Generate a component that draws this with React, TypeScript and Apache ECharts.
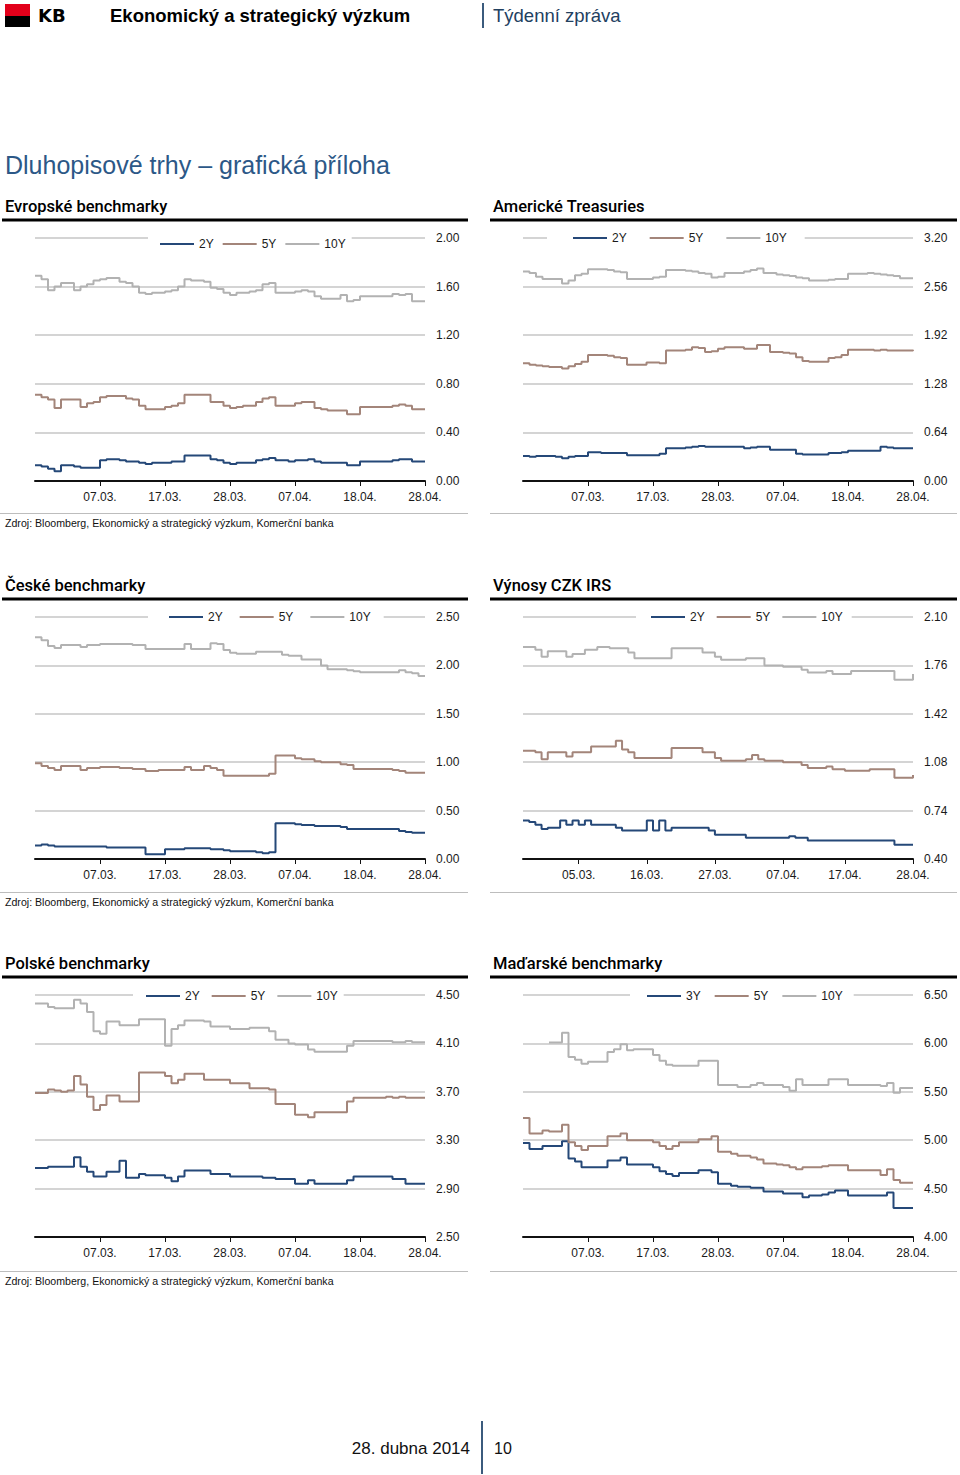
import React, { useEffect, useRef } from "react";
import * as echarts from "echarts";

// ---------------- data ----------------
const STD_TICK_LABELS = ["07.03.", "17.03.", "28.03.", "07.04.", "18.04.", "28.04."];
const STD_TICK_POS = [10, 20, 30, 40, 50, 60];
const IRS_TICK_LABELS = ["05.03.", "16.03.", "27.03.", "07.04.", "17.04.", "28.04."];
const IRS_TICK_POS = [9, 20, 31, 42, 52, 63];

const EUR_Y_TICKS = [0, 0.4, 0.8, 1.2, 1.6, 2.0];
const USD_Y_TICKS = [0, 0.64, 1.28, 1.92, 2.56, 3.2];
const CZ_Y_TICKS = [0, 0.5, 1.0, 1.5, 2.0, 2.5];
const IRS_Y_TICKS = [0.4, 0.74, 1.08, 1.42, 1.76, 2.1];
const PL_Y_TICKS = [2.5, 2.9, 3.3, 3.7, 4.1, 4.5];
const HU_Y_TICKS = [4.0, 4.5, 5.0, 5.5, 6.0, 6.5];

const EUR_2Y = [0.13,0.12,0.10,0.08,0.13,0.13,0.12,0.11,0.11,0.11,
  0.17,0.18,0.18,0.17,0.16,0.16,0.15,0.14,0.15,0.15,
  0.15,0.16,0.16,0.21,0.21,0.21,0.21,0.18,0.17,0.15,
  0.14,0.15,0.15,0.15,0.17,0.18,0.19,0.17,0.17,0.16,
  0.17,0.17,0.18,0.16,0.15,0.15,0.15,0.15,0.13,0.13,
  0.16,0.16,0.16,0.16,0.16,0.17,0.18,0.18,0.16,0.16,
  0.16];
const EUR_5Y = [0.71,0.69,0.67,0.60,0.67,0.67,0.67,0.61,0.64,0.65,
  0.69,0.70,0.70,0.70,0.68,0.67,0.62,0.59,0.59,0.59,
  0.61,0.62,0.64,0.71,0.71,0.71,0.71,0.65,0.65,0.62,
  0.60,0.61,0.62,0.62,0.65,0.68,0.69,0.62,0.62,0.62,
  0.64,0.65,0.65,0.60,0.59,0.58,0.58,0.58,0.55,0.55,
  0.61,0.61,0.61,0.61,0.61,0.62,0.63,0.62,0.59,0.59,
  0.59];
const EUR_10Y = [1.69,1.66,1.57,1.60,1.63,1.63,1.57,1.60,1.62,1.65,
  1.66,1.67,1.67,1.64,1.63,1.60,1.55,1.54,1.55,1.55,
  1.56,1.57,1.60,1.66,1.65,1.65,1.64,1.59,1.58,1.55,
  1.53,1.55,1.55,1.56,1.57,1.62,1.63,1.55,1.55,1.55,
  1.56,1.57,1.56,1.52,1.50,1.50,1.50,1.53,1.48,1.49,
  1.52,1.52,1.52,1.52,1.52,1.54,1.53,1.54,1.48,1.48,
  1.48];

const USD_2Y = [0.33,0.32,0.33,0.33,0.33,0.32,0.30,0.32,0.33,0.33,
  0.38,0.38,0.37,0.37,0.37,0.37,0.34,0.34,0.34,0.34,
  0.34,0.36,0.43,0.43,0.43,0.44,0.45,0.46,0.45,0.45,
  0.45,0.45,0.45,0.45,0.43,0.44,0.45,0.45,0.41,0.41,
  0.41,0.41,0.36,0.35,0.35,0.35,0.35,0.37,0.37,0.38,
  0.40,0.40,0.40,0.40,0.40,0.45,0.44,0.43,0.43,0.43,
  0.43];
const USD_5Y = [1.55,1.53,1.52,1.51,1.50,1.50,1.48,1.51,1.54,1.57,
  1.66,1.66,1.66,1.65,1.63,1.62,1.53,1.53,1.53,1.56,
  1.56,1.55,1.72,1.72,1.72,1.73,1.76,1.75,1.70,1.71,
  1.74,1.76,1.76,1.76,1.74,1.74,1.79,1.79,1.70,1.70,
  1.69,1.68,1.63,1.58,1.57,1.57,1.57,1.62,1.63,1.66,
  1.73,1.73,1.73,1.73,1.72,1.73,1.72,1.72,1.72,1.72,
  1.73];
const USD_10Y = [2.76,2.74,2.69,2.66,2.66,2.66,2.60,2.64,2.71,2.73,
  2.79,2.79,2.79,2.78,2.76,2.75,2.66,2.66,2.66,2.66,
  2.68,2.69,2.78,2.78,2.78,2.77,2.76,2.74,2.73,2.68,
  2.69,2.74,2.74,2.74,2.76,2.78,2.80,2.74,2.74,2.72,
  2.71,2.70,2.68,2.67,2.64,2.64,2.64,2.65,2.66,2.66,
  2.73,2.73,2.73,2.74,2.73,2.72,2.71,2.70,2.67,2.67,
  2.67];

const CZ_2Y = [0.14,0.15,0.14,0.13,0.13,0.13,0.13,0.13,0.13,0.13,
  0.13,0.12,0.12,0.12,0.12,0.12,0.12,0.05,0.05,0.05,
  0.10,0.10,0.10,0.11,0.11,0.11,0.11,0.10,0.10,0.09,
  0.08,0.08,0.08,0.08,0.07,0.06,0.07,0.37,0.37,0.37,
  0.36,0.35,0.35,0.34,0.34,0.34,0.34,0.33,0.31,0.31,
  0.31,0.31,0.31,0.31,0.31,0.31,0.29,0.28,0.27,0.27,
  0.27];
const CZ_5Y = [0.99,0.96,0.94,0.92,0.96,0.96,0.96,0.92,0.94,0.94,
  0.95,0.95,0.95,0.94,0.94,0.93,0.93,0.91,0.91,0.92,
  0.92,0.92,0.92,0.95,0.92,0.92,0.96,0.94,0.92,0.86,
  0.86,0.86,0.86,0.86,0.86,0.86,0.88,1.07,1.07,1.07,
  1.04,1.03,1.03,1.01,1.00,1.00,1.00,0.98,0.97,0.93,
  0.93,0.93,0.93,0.93,0.93,0.92,0.91,0.89,0.89,0.89,
  0.89];
const CZ_10Y = [2.29,2.26,2.20,2.18,2.21,2.21,2.21,2.19,2.21,2.21,
  2.22,2.22,2.22,2.22,2.22,2.21,2.21,2.17,2.17,2.17,
  2.17,2.17,2.17,2.22,2.17,2.17,2.17,2.23,2.22,2.16,
  2.13,2.12,2.12,2.12,2.14,2.14,2.14,2.14,2.11,2.10,
  2.10,2.06,2.06,2.06,2.00,1.96,1.96,1.96,1.95,1.94,
  1.93,1.93,1.93,1.93,1.93,1.93,1.95,1.93,1.92,1.89,
  1.89];

// CZK IRS: one value per calendar day, 24.02. - 28.04.
const IRS_2Y = [0.67,0.66,0.64,0.61,0.62,0.62,0.67,0.64,0.67,0.64,
  0.67,0.64,0.64,0.64,0.64,0.62,0.60,0.60,0.60,0.60,
  0.67,0.60,0.67,0.60,0.62,0.62,0.62,0.62,0.62,0.62,
  0.60,0.57,0.57,0.57,0.57,0.57,0.55,0.55,0.55,0.55,
  0.55,0.55,0.55,0.56,0.55,0.55,0.53,0.53,0.53,0.53,
  0.53,0.53,0.53,0.53,0.53,0.53,0.53,0.53,0.53,0.53,
  0.50,0.50,0.50,0.50];
const IRS_5Y = [1.16,1.16,1.15,1.10,1.15,1.15,1.15,1.12,1.15,1.15,
  1.15,1.19,1.19,1.19,1.19,1.23,1.17,1.15,1.11,1.11,
  1.11,1.11,1.11,1.11,1.18,1.18,1.18,1.18,1.18,1.15,
  1.15,1.11,1.09,1.09,1.09,1.09,1.10,1.13,1.10,1.09,
  1.09,1.09,1.08,1.08,1.08,1.06,1.04,1.04,1.04,1.05,
  1.03,1.03,1.02,1.02,1.02,1.02,1.03,1.03,1.03,1.03,
  0.97,0.97,0.97,0.99];
const IRS_10Y = [1.89,1.89,1.87,1.82,1.86,1.86,1.86,1.82,1.84,1.84,
  1.87,1.87,1.89,1.89,1.88,1.88,1.88,1.85,1.81,1.81,
  1.81,1.81,1.81,1.81,1.88,1.88,1.88,1.88,1.88,1.85,
  1.85,1.82,1.80,1.80,1.80,1.80,1.81,1.81,1.81,1.76,
  1.76,1.76,1.75,1.75,1.75,1.73,1.71,1.71,1.71,1.72,
  1.70,1.70,1.70,1.72,1.72,1.72,1.72,1.72,1.72,1.72,
  1.66,1.66,1.66,1.70];

const PL_2Y = [3.07,3.07,3.08,3.08,3.08,3.08,3.16,3.08,3.04,3.00,
  3.00,3.04,3.04,3.13,2.99,2.99,3.02,3.01,3.01,3.01,
  2.99,2.96,3.00,3.05,3.05,3.05,3.05,3.02,3.02,3.02,
  3.00,3.00,3.00,3.00,3.00,2.99,2.99,2.98,2.98,2.98,
  2.94,2.94,2.97,2.94,2.94,2.94,2.94,2.94,2.97,3.00,
  3.00,3.00,3.00,3.00,3.00,2.98,2.98,2.94,2.94,2.94,
  2.94];
const PL_5Y = [3.69,3.69,3.72,3.71,3.70,3.71,3.83,3.76,3.66,3.55,
  3.59,3.67,3.67,3.62,3.62,3.62,3.86,3.86,3.86,3.86,
  3.83,3.77,3.80,3.85,3.85,3.85,3.80,3.80,3.80,3.80,
  3.77,3.77,3.77,3.73,3.73,3.73,3.72,3.60,3.60,3.60,
  3.51,3.51,3.49,3.53,3.53,3.53,3.53,3.53,3.62,3.65,
  3.65,3.65,3.65,3.65,3.66,3.65,3.66,3.65,3.65,3.65,
  3.65];
const PL_10Y = [4.43,4.43,4.40,4.39,4.39,4.39,4.46,4.43,4.36,4.20,
  4.18,4.28,4.28,4.25,4.25,4.25,4.30,4.30,4.30,4.30,
  4.08,4.22,4.25,4.29,4.29,4.29,4.28,4.24,4.24,4.24,
  4.22,4.22,4.22,4.23,4.23,4.23,4.20,4.13,4.13,4.10,
  4.09,4.09,4.05,4.03,4.03,4.03,4.03,4.03,4.08,4.12,
  4.12,4.12,4.12,4.12,4.12,4.11,4.11,4.12,4.11,4.11,
  4.11];

const HU_3Y = [4.97,4.91,4.91,4.94,4.94,4.94,4.99,4.81,4.78,4.72,
  4.72,4.72,4.72,4.79,4.79,4.82,4.75,4.75,4.75,4.75,
  4.72,4.68,4.65,4.63,4.66,4.66,4.66,4.69,4.69,4.67,
  4.55,4.55,4.53,4.52,4.52,4.51,4.51,4.47,4.47,4.47,
  4.45,4.45,4.45,4.41,4.43,4.43,4.44,4.46,4.48,4.48,
  4.43,4.43,4.43,4.43,4.43,4.43,4.46,4.30,4.30,4.30,
  4.30];
const HU_5Y = [5.23,5.07,5.07,5.10,5.09,5.09,5.16,4.98,4.94,4.90,
  4.94,4.94,4.94,5.04,5.04,5.07,5.00,5.00,5.00,5.00,
  4.98,4.94,4.91,4.94,4.98,4.98,4.98,5.01,5.01,5.04,
  4.88,4.88,4.86,4.84,4.84,4.82,4.80,4.76,4.76,4.75,
  4.74,4.72,4.70,4.72,4.72,4.72,4.73,4.74,4.74,4.74,
  4.69,4.69,4.69,4.69,4.69,4.64,4.70,4.59,4.56,4.56,
  4.56];
const HU_10Y = [null,null,null,null,6.01,6.01,6.11,5.86,5.83,5.79,
  5.81,5.81,5.81,5.91,5.94,5.99,5.93,5.94,5.94,5.94,
  5.88,5.82,5.78,5.77,5.77,5.77,5.77,5.82,5.82,5.82,
  5.57,5.57,5.57,5.55,5.55,5.57,5.59,5.57,5.57,5.57,
  5.55,5.51,5.63,5.57,5.57,5.57,5.57,5.63,5.63,5.63,
  5.57,5.57,5.57,5.57,5.57,5.56,5.59,5.49,5.54,5.54,
  5.54];

const NAMES_STD = ["2Y", "5Y", "10Y"];
const NAMES_HU = ["3Y", "5Y", "10Y"];

// ---------------- layout / style ----------------
const FONT = '"Liberation Sans", Arial, Helvetica, sans-serif';
const HEAD_FONT = 'Roboto, "Liberation Sans", Arial, sans-serif';
const COLORS = ["#254878", "#a3857a", "#b2b2b2"];
const GRID_C = "#c6c6c6";
const TXT = "#1a1a1a";

const PANELS = [
  { left: 35, top: 238, h: 243, xMax: 60, tickPos: STD_TICK_POS, tickLabels: STD_TICK_LABELS,
    yTicks: EUR_Y_TICKS, customY: false, names: NAMES_STD, data: [EUR_2Y, EUR_5Y, EUR_10Y],
    lg: { left: 148, top: 235, gap: 9, pad: [3, 6, 3, 12] } },
  { left: 523, top: 238, h: 243, xMax: 60, tickPos: STD_TICK_POS, tickLabels: STD_TICK_LABELS,
    yTicks: USD_Y_TICKS, customY: false, names: NAMES_STD, data: [USD_2Y, USD_5Y, USD_10Y],
    lg: { left: 547, top: 229, gap: 23, pad: [3, 18, 3, 26] } },
  { left: 35, top: 617, h: 242, xMax: 60, tickPos: STD_TICK_POS, tickLabels: STD_TICK_LABELS,
    yTicks: CZ_Y_TICKS, customY: false, names: NAMES_STD, data: [CZ_2Y, CZ_5Y, CZ_10Y],
    lg: { left: 148, top: 608, gap: 17, pad: [3, 13, 3, 21] } },
  { left: 523, top: 617, h: 242, xMax: 63, tickPos: IRS_TICK_POS, tickLabels: IRS_TICK_LABELS,
    yTicks: IRS_Y_TICKS, customY: true, names: NAMES_STD, data: [IRS_2Y, IRS_5Y, IRS_10Y],
    lg: { left: 636, top: 608, gap: 12, pad: [3, 9, 3, 15] } },
  { left: 35, top: 995, h: 242, xMax: 60, tickPos: STD_TICK_POS, tickLabels: STD_TICK_LABELS,
    yTicks: PL_Y_TICKS, customY: true, names: NAMES_STD, data: [PL_2Y, PL_5Y, PL_10Y],
    lg: { left: 133, top: 987, gap: 12, pad: [3, 6, 3, 13] } },
  { left: 523, top: 995, h: 242, xMax: 60, tickPos: STD_TICK_POS, tickLabels: STD_TICK_LABELS,
    yTicks: HU_Y_TICKS, customY: false, names: NAMES_HU, data: [HU_3Y, HU_5Y, HU_10Y],
    lg: { left: 630, top: 987, gap: 14, pad: [3, 11, 3, 17] } },
];

const SOURCE = "Zdroj: Bloomberg, Ekonomický a strategický výzkum, Komerční banka";

function txt(text: string, x: number, y: number, size: number, o: any = {}) {
  const align = o.align || "left";
  return {
    type: "text",
    x,
    y,
    silent: true,
    style: {
      text,
      font: `${o.weight || "normal"} ${size}px ${o.family || FONT}`,
      fill: o.fill || TXT,
      textAlign: align,
      align,
      textVerticalAlign: "middle",
      verticalAlign: "middle",
    },
  };
}
function hline(x1: number, x2: number, y: number, w: number, c: string) {
  return { type: "line", silent: true, shape: { x1, y1: y, x2, y2: y }, style: { stroke: c, lineWidth: w } };
}
function vline(x: number, y1: number, y2: number, w: number, c: string) {
  return { type: "line", silent: true, shape: { x1: x, y1, x2: x, y2 }, style: { stroke: c, lineWidth: w } };
}

function buildOption() {
  const grid: any[] = [];
  const xAxis: any[] = [];
  const yAxis: any[] = [];
  const legend: any[] = [];
  const series: any[] = [];

  PANELS.forEach((p, i) => {
    grid.push({ left: p.left, top: p.top, width: 390, height: p.h, containLabel: false });
    xAxis.push({
      type: "value",
      gridIndex: i,
      min: 0,
      max: p.xMax,
      z: 3,
      axisLine: { show: true, onZero: false, lineStyle: { color: "#111", width: 2 } },
      axisTick: { show: true, inside: false, length: 5, customValues: p.tickPos, lineStyle: { color: "#111", width: 1 } },
      axisLabel: {
        show: true,
        customValues: p.tickPos,
        margin: 10,
        fontSize: 12,
        fontFamily: FONT,
        color: TXT,
        hideOverlap: false,
        formatter: (v: number) => {
          const k = p.tickPos.indexOf(v);
          return k >= 0 ? p.tickLabels[k] : "";
        },
      },
      splitLine: { show: false },
    });
    const yMin = p.yTicks[0];
    const yMax = p.yTicks[p.yTicks.length - 1];
    const yAx: any = {
      type: "value",
      gridIndex: i,
      position: "right",
      min: yMin,
      max: yMax,
      axisLine: { show: false },
      axisTick: { show: false },
      axisLabel: {
        margin: 11,
        fontSize: 12,
        fontFamily: FONT,
        color: TXT,
        formatter: (v: number) => v.toFixed(2),
      },
      splitLine: { show: true, lineStyle: { color: GRID_C, width: 1.5 } },
    };
    if (p.customY) {
      yAx.axisTick.customValues = p.yTicks;
      yAx.axisLabel.customValues = p.yTicks;
    } else {
      yAx.interval = p.yTicks[1] - p.yTicks[0];
    }
    yAxis.push(yAx);

    legend.push({
      data: p.names,
      orient: "horizontal",
      left: p.lg.left,
      top: p.lg.top,
      itemGap: p.lg.gap,
      itemWidth: 34,
      itemHeight: 2,
      icon: "rect",
      padding: p.lg.pad,
      backgroundColor: "#ffffff",
      selectedMode: false,
      textStyle: { fontSize: 12, fontFamily: FONT, color: TXT },
    });

    p.names.forEach((n, k) => {
      const vals = p.data[k] as (number | null)[];
      series.push({
        type: "line",
        name: n,
        xAxisIndex: i,
        yAxisIndex: i,
        step: "end",
        symbol: "none",
        showSymbol: false,
        silent: true,
        color: COLORS[k],
        itemStyle: { color: COLORS[k] },
        lineStyle: { color: COLORS[k], width: 2 },
        emphasis: { disabled: true },
        data: vals.map((v, j) => [j, v]).filter((d) => d[1] !== null),
      });
    });
  });

  const BLUE_LINE = "#3b5b7d";
  const elements: any[] = [
    // header
    { type: "rect", silent: true, shape: { x: 5, y: 4, width: 25, height: 12 }, style: { fill: "#e2001a" } },
    { type: "rect", silent: true, shape: { x: 5, y: 16, width: 25, height: 11 }, style: { fill: "#000" } },
    txt("KB", 38, 15.5, 18, { weight: "bold", family: '"DejaVu Sans", sans-serif', fill: "#000" }),
    txt("Ekonomický a strategický výzkum", 110, 15.5, 18.5, { weight: "bold", fill: "#000" }),
    vline(483, 3, 28, 2, BLUE_LINE),
    txt("Týdenní zpráva", 493, 15.5, 18.5, { fill: "#22405f" }),
    // main title
    txt("Dluhopisové trhy – grafická příloha", 5, 165, 25, { fill: "#2c5887" }),
    // panel titles
    txt("Evropské benchmarky", 5, 206, 16.5, { fill: "#000", weight: 500, family: HEAD_FONT }),
    txt("Americké Treasuries", 493, 206, 16.5, { fill: "#000", weight: 500, family: HEAD_FONT }),
    txt("České benchmarky", 5, 585, 16.5, { fill: "#000", weight: 500, family: HEAD_FONT }),
    txt("Výnosy CZK IRS", 493, 585, 16.5, { fill: "#000", weight: 500, family: HEAD_FONT }),
    txt("Polské benchmarky", 5, 963, 16.5, { fill: "#000", weight: 500, family: HEAD_FONT }),
    txt("Maďarské benchmarky", 493, 963, 16.5, { fill: "#000", weight: 500, family: HEAD_FONT }),
    // black rules
    hline(2, 468, 220, 3, "#000"),
    hline(490, 957, 220, 3, "#000"),
    hline(2, 468, 599, 3, "#000"),
    hline(490, 957, 599, 3, "#000"),
    hline(2, 468, 977, 3, "#000"),
    hline(490, 957, 977, 3, "#000"),
    // grey separators
    hline(0, 468, 513.5, 1, "#bdbdbd"),
    hline(490, 957, 513.5, 1, "#bdbdbd"),
    hline(0, 468, 892.5, 1, "#bdbdbd"),
    hline(490, 957, 892.5, 1, "#bdbdbd"),
    hline(0, 468, 1271.5, 1, "#bdbdbd"),
    hline(490, 957, 1271.5, 1, "#bdbdbd"),
    // sources
    txt(SOURCE, 5, 523, 10.6, { fill: "#111" }),
    txt(SOURCE, 5, 902, 10.6, { fill: "#111" }),
    txt(SOURCE, 5, 1281, 10.6, { fill: "#111" }),
    // footer
    txt("28. dubna 2014", 470, 1448, 17, { align: "right", fill: "#111" }),
    vline(482, 1421, 1474, 2, BLUE_LINE),
    txt("10", 494, 1448, 16, { fill: "#111" }),
  ];

  return {
    animation: false,
    backgroundColor: "#ffffff",
    textStyle: { fontFamily: FONT },
    grid,
    xAxis,
    yAxis,
    legend,
    series,
    graphic: { elements },
  };
}

export default function App() {
  const ref = useRef<HTMLDivElement>(null);
  useEffect(() => {
    if (!ref.current) return;
    const chart = echarts.init(ref.current, null, { renderer: "svg" });
    chart.setOption(buildOption() as any);
    return () => chart.dispose();
  }, []);
  return (
    <div
      ref={ref}
      style={{ position: "absolute", left: 0, top: 0, width: 960, height: 1475, background: "#fff" }}
    />
  );
}
